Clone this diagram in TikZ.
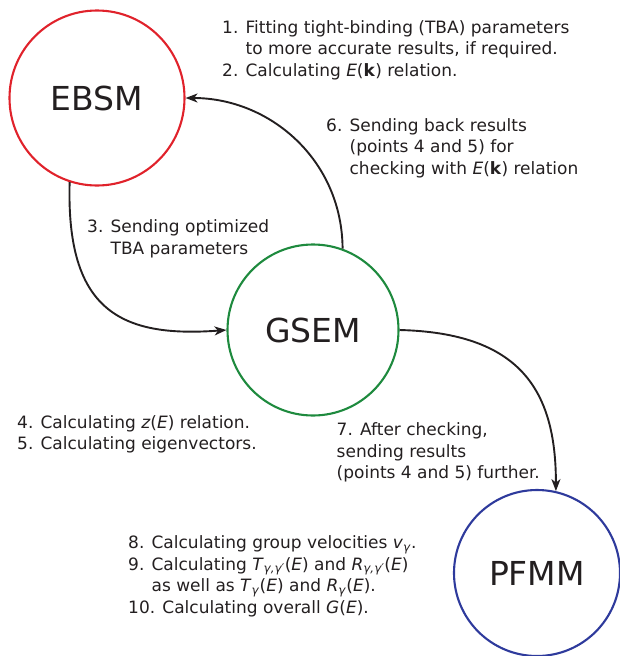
\documentclass[tikz,border=0pt]{standalone}
\usepackage{fontspec}
\setmainfont{DejaVu Sans}
\usetikzlibrary{arrows.meta}
\definecolor{txt}{HTML}{231F20}
\definecolor{cred}{HTML}{E0222B}
\definecolor{cgreen}{HTML}{1E8A3E}
\definecolor{cblue}{HTML}{2E3A9C}
\newcommand{\sbs}[1]{\textsubscript{\textit{#1}}}
\tikzset{
  module/.style={circle, draw, line width=2.1pt, inner sep=0pt, text=txt, font=\fontsize{33}{38}\selectfont},
  conn/.style={line width=1.9pt, draw=txt, -{Stealth[length=12pt,width=9pt,inset=3.5pt]}},
  note/.style={anchor=base west, inner sep=0pt, align=left, text=txt, font=\fontsize{17}{21.5}\selectfont}
}
\begin{document}
\begin{tikzpicture}[x=1pt,y=-1pt]
\useasboundingbox (0,0) rectangle (619,656);
\node[module, draw=cred, minimum size=175pt] (ebsm) at (97,98) {EBSM};
\node[module, draw=cgreen, minimum size=171pt] (gsem) at (313,330) {GSEM};
\node[module, draw=cblue, minimum size=166pt] (pfmm) at (537,573) {PFMM};

\draw[conn] (gsem.70) .. controls (342,160) and (270,98) .. (ebsm.east);
\draw[conn] (ebsm.252) .. controls (66,310) and (120,338) .. (gsem.west);
\draw[conn] (gsem.east) .. controls (520,333) and (556,390) .. (pfmm.77);

% anchor = baseline of the last line
\node[note] (n1) at (222,76) {1. Fitting tight-binding (TBA) parameters\\\phantom{1. }to more accurate results, if required.\\2. Calculating \textit{E}(\textbf{k}) relation.};
\node[note] (n6) at (326,174) {6. Sending back results\\\phantom{6. }(points 4 and 5) for\\\phantom{6. }checking with \textit{E}(\textbf{k}) relation};
\node[note] (n3) at (87,254) {3. Sending optimized\\\phantom{3. }TBA parameters};
\node[note] (n4) at (17,449.5) {4. Calculating \textit{z}(\textit{E}) relation.\\5. Calculating eigenvectors.};
\node[note] (n7) at (336.5,478.5) {7. After checking,\\sending results\\(points 4 and 5) further.};
\node[note] (n8) at (128,613) {8. Calculating group velocities \textit{v}\sbs{γ}.\\9. Calculating \textit{T}\sbs{γ,γ′}(\textit{E}) and \textit{R}\sbs{γ,γ′}(\textit{E})\\\phantom{9. }as well as \textit{T}\sbs{γ}(\textit{E}) and \textit{R}\sbs{γ}(\textit{E}).\\10. Calculating overall \textit{G}(\textit{E}).};
\end{tikzpicture}
\end{document}
